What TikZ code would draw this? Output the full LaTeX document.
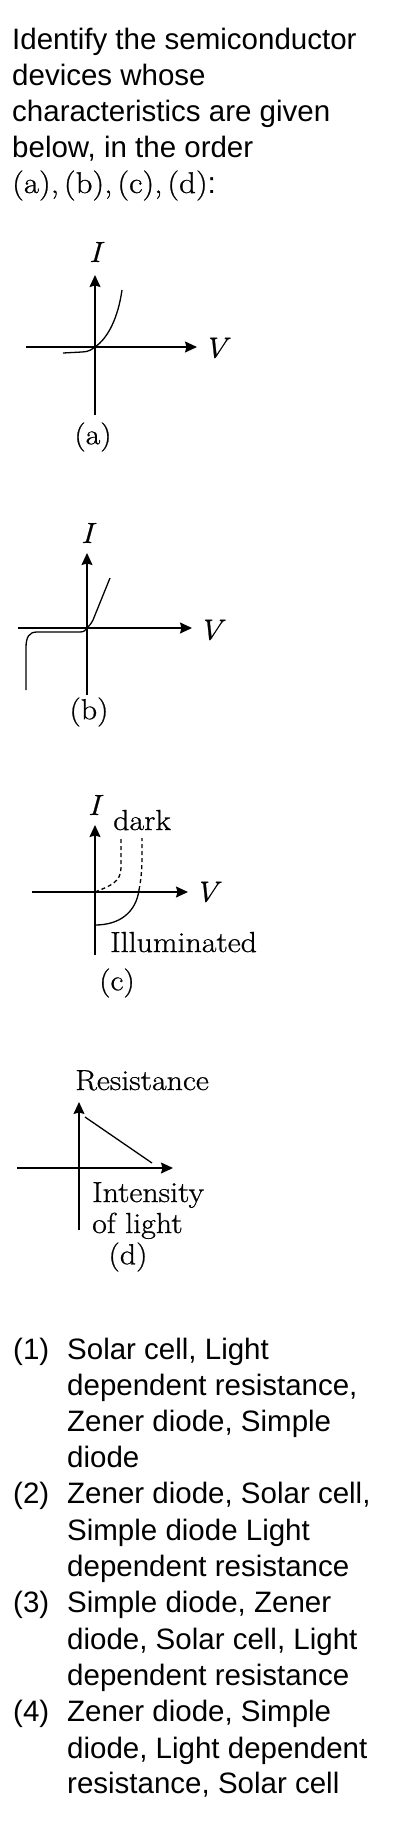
\documentclass[tikz,border=0pt]{standalone}
\usepackage{fontspec}
\newfontfamily\qsans{Liberation Sans}
\newfontfamily\lblfont[FakeBold=0.8,FakeStretch=1.1]{Latin Modern Roman}
\usetikzlibrary{arrows.meta}
\tikzset{
  qtext/.style={font=\qsans\fontsize{29.5}{35}\selectfont, anchor=base west, inner sep=0pt},
  lbl/.style={font=\lblfont\fontsize{29}{34}\selectfont, inner sep=0pt},
  lblw/.style={font=\lblfont\fontsize{29}{34}\selectfont, inner sep=0pt, anchor=base west},
  axis/.style={line width=1.3pt, -{Stealth[length=12pt,width=11pt,inset=1.5pt]}},
  curve/.style={line width=1.3pt},
  dsh/.style={line width=1.3pt, dash pattern=on 4pt off 3pt}
}
\begin{document}
\begin{tikzpicture}[x=1pt,y=-1pt]
\fill[white] (0,0) rectangle (408,1826);
\useasboundingbox (0,0) rectangle (408,1826);

% question
\node[qtext] (q1) at (12,49) {Identify the semiconductor};
\node[qtext] (q2) at (12,85) {devices whose};
\node[qtext] (q3) at (12,121) {characteristics are given};
\node[qtext] (q4) at (12,157) {below, in the order};
\node[anchor=base west, inner sep=0pt, font=\lblfont\fontsize{30}{35}\selectfont] (q5) at (12,193) {(a),\,(b),\,(c),\,(d){\qsans:}};

% graph (a)
\draw[axis] (26,347) -- (197,347);
\draw[axis] (95,415) -- (95,275);
\node[lbl] (aI) at (95,252) {\itshape I};
\node[lbl] (aV) at (215,348) {\itshape V};
\draw[curve] (63,353) -- (82,352) .. controls (89,352) and (92,349) .. (95,347)
  .. controls (108,338) and (118,318) .. (122,290);
\node[lbl] (al) at (93,437) {(a)};

% graph (b)
\draw[axis] (18,628) -- (192,628);
\draw[axis] (87,695) -- (87,553);
\node[lbl] (bI) at (87,533) {\itshape I};
\node[lbl] (bV) at (210,630) {\itshape V};
\draw[curve] (26,690) -- (26,648) .. controls (26,637) and (29,632) .. (37,632) -- (80,632)
  .. controls (84,632) and (86,630) .. (87,628) .. controls (89,626) and (91,624) .. (93,620) -- (110,578);
\node[lbl] (bl) at (89,712) {(b)};

% graph (c)
\draw[axis] (32,892) -- (188,892);
\draw[axis] (95,955) -- (95,825);
\node[lbl] (cI) at (94,805) {\itshape I};
\node[lblw] (cdark) at (113,830) {dark};
\node[lbl] (cV) at (206,892) {\itshape V};
\draw[dsh] (95,892) .. controls (110,886) and (121,882) .. (121,868) -- (121,838);
\draw[dsh] (139,890) .. controls (141,880) and (142,870) .. (142,855) -- (142,838);
\draw[curve] (95,925) .. controls (120,925) and (136,912) .. (139,890);
\node[lblw] (cill) at (110,952) {Illuminated};
\node[lbl] (cl) at (117,983) {(c)};

% graph (d)
\draw[axis] (17,1168) -- (173,1168);
\draw[axis] (79,1230) -- (79,1102);
\node[lblw] (dR) at (75,1090) {Resistance};
\draw[curve] (85,1117) -- (152,1163);
\node[lblw] (dI1) at (92,1202) {Intensity};
\node[lblw] (dI2) at (92,1233) {of light};
\node[lbl] (dl) at (128,1257) {(d)};

% options
\node[qtext] (n1) at (13,1359) {(1)};
\node[qtext] (o1a) at (67,1359) {Solar cell, Light};
\node[qtext] (o1b) at (67,1395) {dependent resistance,};
\node[qtext] (o1c) at (67,1431) {Zener diode, Simple};
\node[qtext] (o1d) at (67,1467) {diode};
\node[qtext] (n2) at (13,1503) {(2)};
\node[qtext] (o2a) at (67,1503) {Zener diode, Solar cell,};
\node[qtext] (o2b) at (67,1540) {Simple diode Light};
\node[qtext] (o2c) at (67,1576) {dependent resistance};
\node[qtext] (n3) at (13,1612) {(3)};
\node[qtext] (o3a) at (67,1612) {Simple diode, Zener};
\node[qtext] (o3b) at (67,1649) {diode, Solar cell, Light};
\node[qtext] (o3c) at (67,1685) {dependent resistance};
\node[qtext] (n4) at (13,1721) {(4)};
\node[qtext] (o4a) at (67,1721) {Zener diode, Simple};
\node[qtext] (o4b) at (67,1758) {diode, Light dependent};
\node[qtext] (o4c) at (67,1793) {resistance, Solar cell};
\end{tikzpicture}
\end{document}
